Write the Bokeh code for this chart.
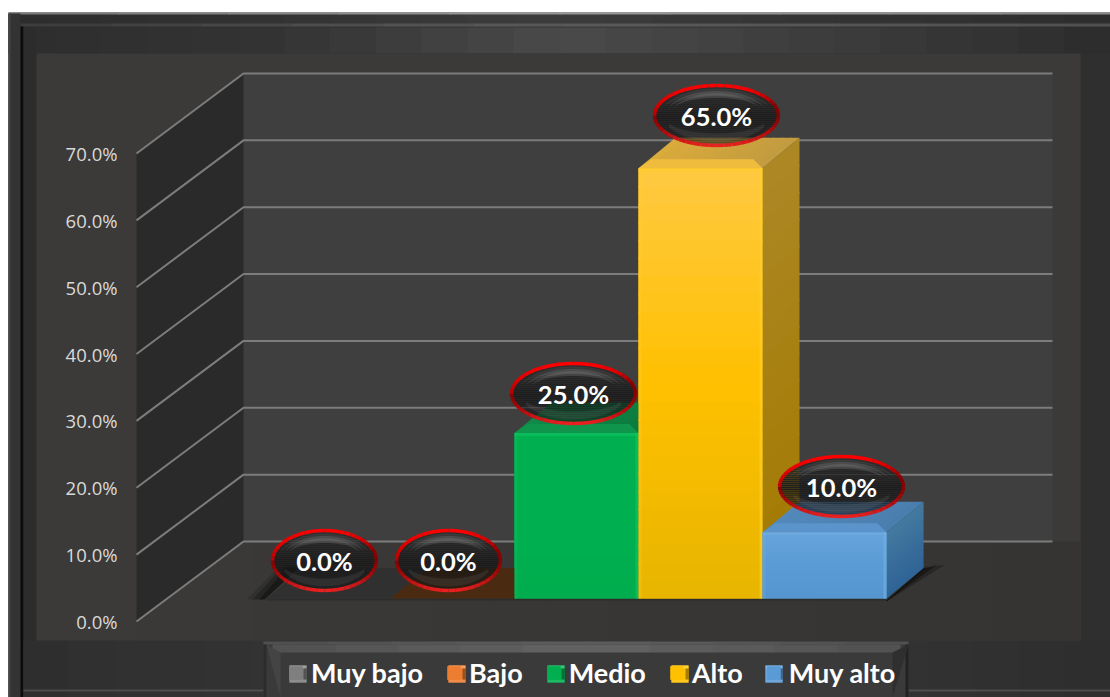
from bokeh.plotting import figure, ColumnDataSource
from bokeh.models import Range1d, FixedTicker, Legend, LegendItem
from bokeh.core.properties import value
from bokeh.embed import file_html
from bokeh.resources import INLINE
import numpy as np

# ---- data
CATEGORIES = ["Muy bajo", "Bajo", "Medio", "Alto", "Muy alto"]
VALUES = [0.0, 0.0, 25.0, 65.0, 10.0]
VALUE_LABELS = ["0.0%", "0.0%", "25.0%", "65.0%", "10.0%"]
TICK_VALUES = [0, 10, 20, 30, 40, 50, 60, 70]
TICK_LABELS = ["0.0%", "10.0%", "20.0%", "30.0%", "40.0%", "50.0%", "60.0%", "70.0%"]
SWATCH = ["#7f7f7f", "#ed7d31", "#00b050", "#ffc000", "#5b9bd5"]

# ---- style
FRONT_TOP = ["#7f7f7f", "#ed7d31", "#00b050", "#ffc93f", "#66a3da"]
FRONT_MID = ["#7f7f7f", "#ed7d31", "#00b050", "#ffc000", "#5b9bd5"]
FRONT_BOT = ["#7f7f7f", "#ed7d31", "#00ad4e", "#e8b500", "#5596d0"]
EDGE = ["#7f7f7f", "#ed7d31", "#13c565", "#ffd02a", "#6fb0e6"]
LIP = ["#303030", "#4a2a10", "#10964c", "#f0bc3e", "#5a94ca"]
TOP_L = ["#303030", "#4a2a10", "#0f8a48", "#d9aa3c", "#5288ba"]
TOP_R = ["#303030", "#4a2a10", "#0b7a3e", "#c39c40", "#4a7eaf"]
SIDE_T = ["#303030", "#4a2a10", "#007a38", "#ac8724", "#44799f"]
SIDE_B = ["#303030", "#4a2a10", "#006a30", "#a37a00", "#2f6496"]
LABEL_DX = [-4, -4, -3, 16, 17]
LABEL_DY = [-38, -38, -40, -53, -46]
SWATCH_PX = [289, 448, 547, 671, 765]

W, H = 1110, 697
PX_X, PX_Y = 124.0, 6.686    # pixels per category, pixels per percent
X0_PX, Y0_PX = 328.0, 621.0
xp = lambda px: (np.asarray(px, float) - X0_PX) / PX_X
yp = lambda py: (Y0_PX - np.asarray(py, float)) / PX_Y
to_py = lambda y: Y0_PX - y * PX_Y
FLOOR = 23 / PX_Y
BAR_K = 0.99
DX, DY = 37 / PX_X, 30.5 / PX_Y
BX, BY = 107 / PX_X, 80 / PX_Y
AX_X = float(xp(136))

def hexrgb(c):
    return np.array([int(c[i:i + 2], 16) for i in (1, 3, 5)], float)

def lerp(a, b, t):
    t = min(max(t, 0), 1)
    v = hexrgb(a) * (1 - t) + hexrgb(b) * t
    return "#%02x%02x%02x" % tuple(int(round(q)) for q in v)

p = figure(width=W, height=H, output_backend="svg", toolbar_location=None,
           x_range=Range1d(float(xp(0)), float(xp(W))),
           y_range=Range1d(float(yp(H)), float(yp(0))),
           x_axis_location=None, y_axis_location="left",
           min_border_left=0, min_border_right=0, min_border_top=0, min_border_bottom=0,
           border_fill_color="#ffffff", background_fill_color="#ffffff", outline_line_color=None)
p.grid.visible = False
ax = p.yaxis[0]
ax.fixed_location = AX_X
ax.ticker = FixedTicker(ticks=TICK_VALUES)
ax.major_label_overrides = dict(zip(TICK_VALUES, TICK_LABELS))
ax.axis_line_color = None
ax.major_tick_line_color = None
ax.minor_tick_line_color = None
ax.major_label_standoff = 13
ax.major_label_text_font = "Open Sans"
ax.major_label_text_font_size = "18.5px"
ax.major_label_text_color = "#d9d9d9"
ax.level = "overlay"


def box(x0, y0, x1, y1, color, alpha=1.0, level="glyph"):
    p.quad(left=[float(xp(x0))], right=[float(xp(x1))], top=[float(yp(y0))], bottom=[float(yp(y1))],
           fill_color=color, fill_alpha=alpha, line_color=None, level=level)

def poly(xs, ys, color, alpha=1.0):
    p.patch(xp(xs).tolist(), yp(ys).tolist(), fill_color=color, fill_alpha=alpha, line_color=None)

def hgrad(x0, x1, y0, y1, stops, n=24):
    xs = np.linspace(x0, x1, n + 1).round()
    for a, b in zip(xs[:-1], xs[1:]):
        t = ((a + b) / 2 - x0) / (x1 - x0)
        k = min(int(t * (len(stops) - 1)), len(stops) - 2)
        box(a, y0, min(b + 1, x1), y1, lerp(stops[k], stops[k + 1], t * (len(stops) - 1) - k))

# outer frame
box(8, 12, 1110, 697, "#2e2e2e")
hgrad(8, 1110, 14, 27, ["#2c2c2c", "#333333", "#3c3c3c", "#333333", "#2e2e2e"])
hgrad(8, 1110, 27, 53, ["#2d2d2d", "#343434", "#4a4a4a", "#3c3c3c", "#2c2c2c"])
hgrad(8, 1110, 12, 14, ["#777777", "#999999", "#888888"], 10)
hgrad(20, 1110, 23, 26, ["#3a3a3a", "#5a5a5a", "#505050"], 12)
box(8, 13, 20, 697, "#333333")
box(8, 13, 10, 697, "#444444")
box(20, 26, 23, 697, "#0c0c0c")
box(23, 27, 36, 697, "#2c2c2c")
hgrad(23, 1110, 640, 697, ["#2e2e2e", "#3a3a3a", "#2d2d2d"], 24)
hgrad(23, 1110, 689, 691, ["#4a4a4a", "#555555", "#4a4a4a"], 8)
box(1080, 53, 1110, 640, "#2f2f2f")
# chart area
box(36, 53, 1080, 640, "#3b3a38")
box(243, 73, 1052, 542, "#3f3f3f")

# floor, lightly shaded left to right
fx = np.linspace(136, 1080, 33)
for a, b in zip(fx[:-1], fx[1:]):
    ya = 621 - (min(a, 243) - 136) * 80 / 107
    yb = 621 - (min(b, 243) - 136) * 80 / 107
    poly([a, min(b + 1, 1080), min(b + 1, 1080), a], [ya, yb, 640, 640], lerp("#3a3937", "#353432", (a - 136) / 944))
p.patch([AX_X, AX_X + BX, AX_X + BX, AX_X], [70, 70 + BY, BY, 0], fill_color="#2a2a2a", line_color=None)

# grid lines through the ticks
gx = [[AX_X, AX_X + BX, float(xp(1052))] for _ in TICK_VALUES]
gy = [[t, t + BY, t + BY] for t in TICK_VALUES]
p.multi_line(gx, gy, line_color="#7c7c7c", line_width=2)

# shadows
for g, a in ((18, .14), (12, .22), (5, .32)):
    poly([264, 264 - g, 290 - g * .6, 300], [599, 599, 566, 566], "#000000", a)
for grow, a in ((22, .25), (14, .35), (6, .5)):
    poly([886, 923, 923 + grow, 886], [600, 568, 564, 601], "#000000", a)
p.quad(left=[-0.5], right=[4.5], bottom=[FLOOR - .3], top=[FLOOR], fill_color="#1a1a1a", fill_alpha=.35, line_color=None)

# main bar fronts (also the legend's glyphs)
lefts = [i - .5 for i in range(5)]
rights = [i + .5 for i in range(5)]
tops = [FLOOR + v * BAR_K for v in VALUES]
src = ColumnDataSource(dict(left=lefts, right=rights, top=tops, bottom=[FLOOR] * 5, color=SWATCH))
main = p.quad(left="left", right="right", top="top", bottom="bottom", fill_color="color", line_color=None, source=src)

LIP_X, LIP_Y = 13 / PX_X, 9 / PX_Y
for i, v in enumerate(VALUES):
    l, r, b, t = lefts[i], rights[i], FLOOR, tops[i]
    if v == 0:
        p.patch([l, r, r + DX, l + DX], [b, b, b + DY, b + DY], fill_color=TOP_L[i], line_color=None)
        continue
    # side face
    N = 16
    ys = np.linspace(t, b, N + 1)
    for k in range(N):
        c = lerp(SIDE_T[i], SIDE_B[i], k / (N - 1))
        low = ys[k + 1] - (0 if k == N - 1 else 1.5 / PX_Y)
        p.patch([r, r + DX, r + DX, r], [ys[k], ys[k] + DY, low + DY, low], fill_color=c, line_color=None)
    # top face
    NT = 14
    xs = np.linspace(l, r, NT + 1)
    for k in range(NT):
        c = lerp(TOP_L[i], TOP_R[i], k / (NT - 1))
        hi = xs[k + 1] + (0 if k == NT - 1 else 1.5 / PX_X)
        p.patch([xs[k], hi, hi + DX, xs[k] + DX], [t, t, t + DY, t + DY], fill_color=c, line_color=None)
    p.patch([l, r, r - LIP_X + DX * .1, l + LIP_X], [t, t, t + LIP_Y, t + LIP_Y], fill_color=LIP[i], line_color=None)
    # front face gradient
    N = 24
    ys = np.linspace(t, b, N + 1)
    for k in range(N):
        f = k / (N - 1)
        c = lerp(FRONT_TOP[i], FRONT_MID[i], f / .5) if f < .5 else lerp(FRONT_MID[i], FRONT_BOT[i], (f - .5) / .5)
        low = ys[k + 1] - (0 if k == N - 1 else 1.5 / PX_Y)
        p.quad(left=[l], right=[r], top=[ys[k]], bottom=[low], fill_color=c, line_color=None)
    # rounded highlights
    e = 3 / PX_X
    p.quad(left=[r - e], right=[r], top=[t], bottom=[b], fill_color=EDGE[i], fill_alpha=.6, line_color=None)
    p.quad(left=[l], right=[l + e], top=[t], bottom=[b], fill_color=EDGE[i], fill_alpha=.3, line_color=None)
    p.quad(left=[l], right=[r], top=[t], bottom=[t - 3 / PX_Y], fill_color=EDGE[i], fill_alpha=.5, line_color=None)

# legend panel
box(263, 642, 908, 697, "#3a3a3a")
hgrad(263, 908, 641, 644, ["#4e4e4e", "#5e5e5e", "#4e4e4e"], 10)
hgrad(272, 900, 644, 652, ["#505050", "#636363", "#505050"], 10)
box(263, 644, 266, 697, "#2c2c2c")
box(905, 644, 908, 697, "#222222")
poly([266, 280, 280], [644, 652, 697], "#444444")
poly([908, 892, 892], [644, 652, 697], "#2f2f2f")

legend = Legend(items=[LegendItem(label=c, renderers=[main], index=i) for i, c in enumerate(CATEGORIES)],
                orientation="horizontal", location=(287, 8), glyph_width=17, glyph_height=17,
                spacing=22, margin=0, padding=0, label_standoff=7,
                label_text_font="Lato", label_text_font_size="27px", label_text_font_style="bold",
                label_text_color="#ffffff", background_fill_alpha=0, border_line_alpha=0)
p.add_layout(legend, "center")

# bevels on the legend swatches
for px, c in zip(SWATCH_PX, SWATCH):
    y0, y1 = 665, 682
    box(px, y0, px + 17, y1, c, level="overlay")
    box(px, y0, px + 17, y0 + 3, lerp(c, "#ffffff", .25), level="overlay")
    box(px, y1 - 3, px + 17, y1, lerp(c, "#ffffff", .12), level="overlay")
    box(px, y0 + 3, px + 3, y1 - 3, lerp(c, "#ffffff", .1), level="overlay")
    box(px + 14, y0 + 3, px + 17, y1 - 3, lerp(c, "#000000", .35), level="overlay")
    box(px + 6, y0 + 6, px + 11, y1 - 6, lerp(c, "#ffffff", .35), level="overlay")

# data-label bubbles
sx, sy, sc, sa = [], [], [], []
gx_, gy_, gc, ga = [], [], [], []
rx_, ry_, rc_ = [], [], []
cx_, cy_ = [], []
for i, v in enumerate(VALUES):
    cpx = X0_PX + i * PX_X + LABEL_DX[i]
    cpy = round(to_py(tops[i]) + LABEL_DY[i])
    cx_.append(float(xp(cpx))); cy_.append(float(yp(cpy)))
    a = 52 if v == 0 else 62
    b = 30
    for dy in range(-b, b, 2):
        y0, y1 = dy / b, (dy + 2) / b
        w0, w1 = np.sqrt(max(1 - y0 * y0, 0)), np.sqrt(max(1 - y1 * y1, 0))
        mid = (y0 + y1) / 2
        sx.append(xp([cpx - a * w0, cpx + a * w0, cpx + a * w1, cpx - a * w1]).tolist())
        sy.append(yp([cpy + dy, cpy + dy, cpy + dy + 2, cpy + dy + 2]).tolist())
        if mid < 0.15:   # upper part
            col, alp = lerp("#2e2e2e", "#1a1a1a", (mid + 1) / 1.15), .97
        else:            # lower part lets the bars show through
            col, alp = "#181818", .85 - (mid - .15) * .3
        sc.append(col); sa.append(alp)
    # gloss crescents
    for f, al in ((.90, .08), (.82, .14), (.74, .14)):
        th = np.linspace(np.pi * 1.1, np.pi * 1.9, 20)
        up_x = cpx + a * f * np.cos(th)
        up_y = cpy + (b * f * np.sin(th))
        lo_y = cpy + (b * f * np.sin(th)) * .66 - b * .1
        gx_.append(xp(np.r_[up_x, up_x[::-1]]).tolist())
        gy_.append(yp(np.r_[up_y, lo_y[::-1]]).tolist())
        gc.append("#d0d0d0"); ga.append(al)
    th = np.linspace(np.pi * .15, np.pi * .85, 20)
    up_x = cpx + a * .86 * np.cos(th)
    up_y = cpy + b * .86 * np.sin(th)
    gx_.append(xp(np.r_[up_x, up_x[::-1]]).tolist())
    gy_.append(yp(np.r_[up_y, cpy + (up_y[::-1] - cpy) * .7]).tolist())
    gc.append("#9a9a9a"); ga.append(.12)
    # ring: sin > 0 is towards the bottom of the picture
    th = np.linspace(0, 2 * np.pi, 49)
    for k in range(48):
        m = (th[k] + th[k + 1]) / 2
        s, cs = np.sin(m), np.cos(m)
        if s < 0:
            c = lerp("#ff0000", "#8a0000", max(0, cs) * (1 + s) * 1.6 + max(0, -cs) * (1 + s) * .6)
        else:
            c = lerp("#8a0000", "#e82020", s ** 1.5)
        rx_.append(xp([cpx + a * np.cos(th[k]), cpx + a * np.cos(th[k + 1])]).tolist())
        ry_.append(yp([cpy + b * np.sin(th[k]), cpy + b * np.sin(th[k + 1])]).tolist())
        rc_.append(c)
p.patches(sx, sy, fill_color=sc, fill_alpha=sa, line_color=None)
p.patches(gx_, gy_, fill_color=gc, fill_alpha=ga, line_color=None)
p.multi_line(rx_, ry_, line_color=rc_, line_width=3.5)
p.text(cx_, cy_, text=VALUE_LABELS, text_font=value("Lato"), text_font_style="bold",
       text_font_size="25.5px", text_color="#ffffff", text_align="center", text_baseline="middle")

open("out.html", "w").write(file_html(p, INLINE))
